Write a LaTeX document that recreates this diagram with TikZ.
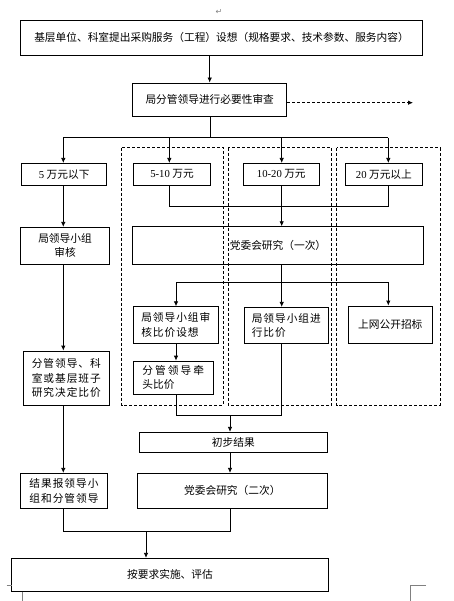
\documentclass[tikz,border=0pt]{standalone}
\usepackage{fontspec}
\setmainfont{Liberation Serif}
\newfontfamily\cjk{Noto Sans CJK SC}
\newfontfamily\cjkw[LetterSpace=9]{Noto Sans CJK SC}
\newfontfamily\cjkww[LetterSpace=19]{Noto Sans CJK SC}
\newfontfamily\symf{DejaVu Sans}
\usetikzlibrary{arrows.meta}
\begin{document}
\begin{tikzpicture}[x=1pt,y=-1pt,
  box/.style={draw, line width=0.8pt, inner sep=0pt, align=center, font=\fontsize{10.7}{14.5}\selectfont\cjk},
  wbox/.style={box, align=left, font=\fontsize{10.7}{14.5}\selectfont\cjkw},
  arr/.style={line width=0.8pt,-{Latex[length=5pt,width=4.5pt]}},
  ln/.style={line width=0.8pt},
  dbox/.style={draw, line width=0.8pt, dash pattern=on 3pt off 2pt},
  cropmark/.style={draw=gray, line width=0.6pt}]
\useasboundingbox (0,0) rectangle (453,601);

% paragraph mark
\node[text=gray, font=\fontsize{8}{8}\selectfont\symf, inner sep=0pt] (pm) at (219,12) {↵};

% dashed groups
\draw[dbox] (121.7,147.7) rectangle (223.3,405);
\draw[dbox] (228.3,147.7) rectangle (331.7,405);
\draw[dbox] (336.7,147.7) rectangle (440,405);

% boxes
\node[box, minimum width=401.6pt, minimum height=35pt] (top) at (221.5,37.5)
  {基层单位、科室提出采购服务（工程）设想（规格要求、技术参数、服务内容）};
\node[box, minimum width=154pt, minimum height=33.7pt] (rev) at (209.7,99.85)
  {\raisebox{-2.5pt}{局分管领导进行必要性审查}};
\node[box, minimum width=85pt, minimum height=21.7pt] (a1) at (64.2,174.2)
  {{\rmfamily 5} 万元以下};
\node[box, minimum width=77.4pt, minimum height=21.7pt] (a2) at (172,174.2)
  {{\rmfamily 5-10} 万元};
\node[box, minimum width=76pt, minimum height=21.7pt] (a3) at (281.3,174.2)
  {{\rmfamily 10-20} 万元};
\node[box, minimum width=77.7pt, minimum height=21.7pt] (a4) at (383.9,174.2)
  {{\rmfamily 20} 万元以上};
\node[box, minimum width=88.6pt, minimum height=36.7pt] (l1) at (65,245.65)
  {局领导小组\\审核};
\node[box, minimum width=290.6pt, minimum height=37.3pt] (pc1) at (278,245.35)
  {党委会研究（一次）};
\node[wbox, minimum width=85pt, minimum height=36.6pt] (b1) at (175.8,325)
  {局领导小组审\\核比价设想};
\node[wbox, minimum width=84pt, minimum height=36pt] (b2) at (286.3,325.3)
  {局领导小组进\\行比价};
\node[box, minimum width=84pt, minimum height=37.3pt] (b3) at (390.3,324.65)
  {上网公开招标};
\node[box, align=left, minimum width=80pt, minimum height=33.3pt] (b4) at (173.3,377.65)
  {{\cjkww 分管领导牵}\\头比价};
\node[wbox, minimum width=86pt, minimum height=54pt] (l2) at (66.3,378)
  {分管领导、科\\室或基层班子\\研究决定比价};
\node[box, minimum width=188pt, minimum height=20pt] (r1) at (233.3,442.3)
  {初步结果};
\node[box, minimum width=190pt, minimum height=35pt] (pc2) at (232.3,490.8)
  {党委会研究（二次）};
\node[wbox, minimum width=86.6pt, minimum height=35pt] (l3) at (64,490.8)
  {结果报领导小\\组和分管领导};
\node[box, minimum width=316.6pt, minimum height=32.7pt] (fin) at (170,574.65)
  {按要求实施、评估};

% connectors
\draw[arr] (rev.north |- top.south) -- (rev.north);
\coordinate (dend) at (413,102.7);
\draw[arr, dash pattern=on 3pt off 2pt] (rev.east |- dend) -- (dend);

\coordinate (bus1) at (210,137.7);
\draw[ln] (bus1 |- rev.south) -- (bus1);
\coordinate (h1) at (63.3,137.7);
\coordinate (h2) at (169.3,137.7);
\coordinate (h3) at (281.7,137.7);
\coordinate (h4) at (388.3,137.7);
\draw[ln] (h1) -- (h4);
\draw[arr] (h1) -- (h1 |- a1.north);
\draw[arr] (h2) -- (h2 |- a2.north);
\draw[arr] (h3) -- (h3 |- a3.north);
\draw[arr] (h4) -- (h4 |- a4.north);

\coordinate (m2) at (169.3,206.7);
\coordinate (m4) at (388.3,206.7);
\draw[ln] (m2 |- a2.south) -- (m2) -- (m4) -- (m4 |- a4.south);
\draw[arr] (h3 |- a3.south) -- (h3 |- pc1.north);

\draw[arr] (h1 |- a1.south) -- (h1 |- l1.north);
\draw[arr] (h1 |- l1.south) -- (h1 |- l2.north);
\draw[arr] (h1 |- l2.south) -- (h1 |- l3.north);

\coordinate (p1) at (176,282.3);
\coordinate (p2) at (281.7,282.3);
\coordinate (p3) at (388.3,282.3);
\draw[ln] (p2 |- pc1.south) -- (p2);
\draw[ln] (p1) -- (p3);
\draw[arr] (p1) -- (p1 |- b1.north);
\draw[arr] (p2) -- (p2 |- b2.north);
\draw[arr] (p3) -- (p3 |- b3.north);
\draw[arr] (p1 |- b1.south) -- (p1 |- b4.north);

\coordinate (q1) at (176.7,415);
\coordinate (q2) at (281.7,415);
\coordinate (q3) at (230,415);
\draw[ln] (q1 |- b4.south) -- (q1) -- (q2) -- (q2 |- b2.south);
\draw[arr] (q3) -- (q3 |- r1.north);
\draw[arr] (q3 |- r1.south) -- (q3 |- pc2.north);

\coordinate (s1) at (63.3,531);
\coordinate (s2) at (230,531);
\coordinate (s3) at (146,531);
\draw[ln] (s1 |- l3.south) -- (s1) -- (s2) -- (s2 |- pc2.south);
\draw[arr] (s3) -- (s3 |- fin.north);

% page corner marks
\draw[cropmark] (6.7,585.7) -- (11.7,585.7);
\draw[cropmark] (22.7,591.7) -- (22.7,601);
\draw[cropmark] (426,585.7) -- (410,585.7) -- (410,601);
\end{tikzpicture}
\end{document}
